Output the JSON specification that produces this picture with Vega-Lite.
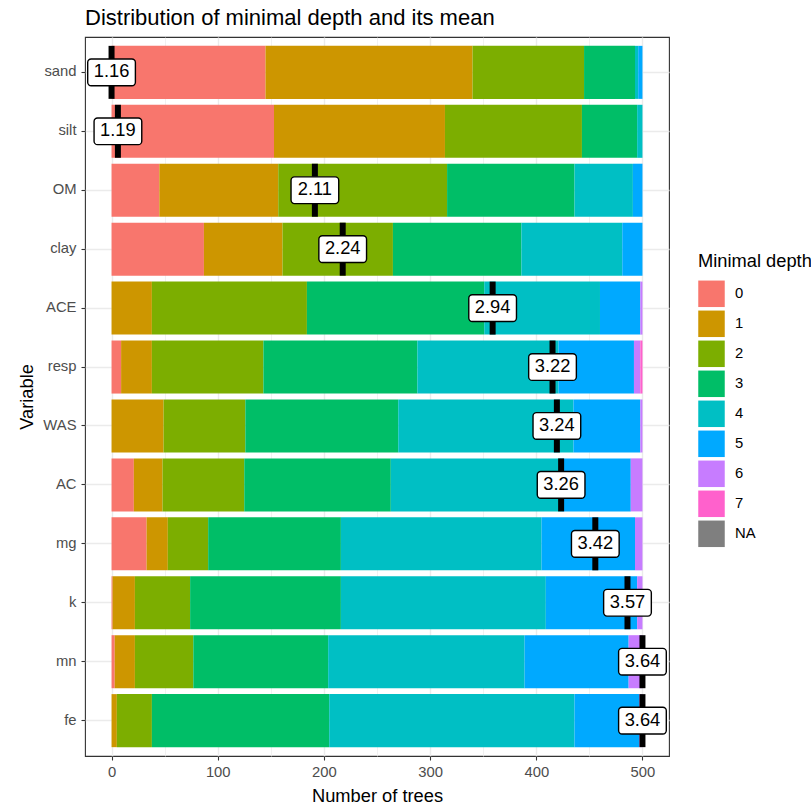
{
  "$schema": "https://vega.github.io/schema/vega-lite/v6.json",
  "autosize": {"type": "none"},
  "padding": {"left": 85, "top": 37, "right": 142, "bottom": 50},
  "width": 584,
  "height": 719,
  "title": {
    "text": "Distribution of minimal depth and its mean",
    "anchor": "start",
    "frame": "group",
    "fontSize": 22,
    "fontWeight": "normal",
    "color": "#000000",
    "offset": 7
  },
  "datasets": {
    "depths": [
      {"variable": "sand", "depth": "0", "count": 145},
      {"variable": "sand", "depth": "1", "count": 195},
      {"variable": "sand", "depth": "2", "count": 105},
      {"variable": "sand", "depth": "3", "count": 48},
      {"variable": "sand", "depth": "4", "count": 3},
      {"variable": "sand", "depth": "5", "count": 4},
      {"variable": "silt", "depth": "0", "count": 153},
      {"variable": "silt", "depth": "1", "count": 161},
      {"variable": "silt", "depth": "2", "count": 129},
      {"variable": "silt", "depth": "3", "count": 52},
      {"variable": "silt", "depth": "4", "count": 5},
      {"variable": "OM", "depth": "0", "count": 45},
      {"variable": "OM", "depth": "1", "count": 112},
      {"variable": "OM", "depth": "2", "count": 159},
      {"variable": "OM", "depth": "3", "count": 120},
      {"variable": "OM", "depth": "4", "count": 55},
      {"variable": "OM", "depth": "5", "count": 9},
      {"variable": "clay", "depth": "0", "count": 87},
      {"variable": "clay", "depth": "1", "count": 74},
      {"variable": "clay", "depth": "2", "count": 104},
      {"variable": "clay", "depth": "3", "count": 121},
      {"variable": "clay", "depth": "4", "count": 95},
      {"variable": "clay", "depth": "5", "count": 19},
      {"variable": "ACE", "depth": "1", "count": 38},
      {"variable": "ACE", "depth": "2", "count": 146},
      {"variable": "ACE", "depth": "3", "count": 167},
      {"variable": "ACE", "depth": "4", "count": 109},
      {"variable": "ACE", "depth": "5", "count": 38},
      {"variable": "ACE", "depth": "6", "count": 2},
      {"variable": "resp", "depth": "0", "count": 9},
      {"variable": "resp", "depth": "1", "count": 29},
      {"variable": "resp", "depth": "2", "count": 105},
      {"variable": "resp", "depth": "3", "count": 145},
      {"variable": "resp", "depth": "4", "count": 133},
      {"variable": "resp", "depth": "5", "count": 71},
      {"variable": "resp", "depth": "6", "count": 6},
      {"variable": "resp", "depth": "7", "count": 2},
      {"variable": "WAS", "depth": "1", "count": 49},
      {"variable": "WAS", "depth": "2", "count": 77},
      {"variable": "WAS", "depth": "3", "count": 144},
      {"variable": "WAS", "depth": "4", "count": 165},
      {"variable": "WAS", "depth": "5", "count": 63},
      {"variable": "WAS", "depth": "6", "count": 2},
      {"variable": "AC", "depth": "0", "count": 21},
      {"variable": "AC", "depth": "1", "count": 27},
      {"variable": "AC", "depth": "2", "count": 77},
      {"variable": "AC", "depth": "3", "count": 138},
      {"variable": "AC", "depth": "4", "count": 161},
      {"variable": "AC", "depth": "5", "count": 65},
      {"variable": "AC", "depth": "6", "count": 11},
      {"variable": "mg", "depth": "0", "count": 33},
      {"variable": "mg", "depth": "1", "count": 20},
      {"variable": "mg", "depth": "2", "count": 38},
      {"variable": "mg", "depth": "3", "count": 125},
      {"variable": "mg", "depth": "4", "count": 189},
      {"variable": "mg", "depth": "5", "count": 88},
      {"variable": "mg", "depth": "6", "count": 7},
      {"variable": "k", "depth": "0", "count": 1},
      {"variable": "k", "depth": "1", "count": 21},
      {"variable": "k", "depth": "2", "count": 52},
      {"variable": "k", "depth": "3", "count": 142},
      {"variable": "k", "depth": "4", "count": 193},
      {"variable": "k", "depth": "5", "count": 86},
      {"variable": "k", "depth": "6", "count": 5},
      {"variable": "mn", "depth": "0", "count": 3},
      {"variable": "mn", "depth": "1", "count": 19},
      {"variable": "mn", "depth": "2", "count": 55},
      {"variable": "mn", "depth": "3", "count": 127},
      {"variable": "mn", "depth": "4", "count": 185},
      {"variable": "mn", "depth": "5", "count": 98},
      {"variable": "mn", "depth": "6", "count": 13},
      {"variable": "fe", "depth": "1", "count": 5},
      {"variable": "fe", "depth": "2", "count": 33},
      {"variable": "fe", "depth": "3", "count": 167},
      {"variable": "fe", "depth": "4", "count": 231},
      {"variable": "fe", "depth": "5", "count": 61},
      {"variable": "fe", "depth": "6", "count": 3}
    ],
    "means": [
      {"variable": "sand", "mean": 1.16, "labelPos": 0},
      {"variable": "silt", "mean": 1.19, "labelPos": 6},
      {"variable": "OM", "mean": 2.11, "labelPos": 191.5},
      {"variable": "clay", "mean": 2.24, "labelPos": 217.7},
      {"variable": "ACE", "mean": 2.94, "labelPos": 358.9},
      {"variable": "resp", "mean": 3.22, "labelPos": 415.3},
      {"variable": "WAS", "mean": 3.24, "labelPos": 419.4},
      {"variable": "AC", "mean": 3.26, "labelPos": 423.4},
      {"variable": "mg", "mean": 3.42, "labelPos": 455.6},
      {"variable": "k", "mean": 3.57, "labelPos": 485.9},
      {"variable": "mn", "mean": 3.64, "labelPos": 500},
      {"variable": "fe", "mean": 3.64, "labelPos": 500}
    ]
  },
  "encoding": {
    "y": {
      "field": "variable",
      "type": "nominal",
      "sort": ["sand", "silt", "OM", "clay", "ACE", "resp", "WAS", "AC", "mg", "k", "mn", "fe"],
      "scale": {"paddingInner": 0.1, "paddingOuter": 0.15},
      "axis": {
        "title": "Variable",
        "titleFontSize": 18.3,
        "titleFontWeight": "normal",
        "titleColor": "#000000",
        "titlePadding": 6,
        "labelFontSize": 14.8,
        "labelColor": "#4D4D4D",
        "labelPadding": 5,
        "tickSize": 4,
        "tickColor": "#333333",
        "tickWidth": 1.1,
        "domain": false,
        "grid": true,
        "gridColor": "#EBEBEB",
        "gridWidth": 1.4,
        "bandPosition": 0.5
      }
    }
  },
  "layer": [
    {
      "data": {"name": "depths"},
      "mark": {"type": "bar", "strokeWidth": 0},
      "encoding": {
        "x": {
          "field": "count",
          "type": "quantitative",
          "stack": "zero",
          "scale": {"domain": [-25, 525], "nice": false, "zero": false},
          "axis": {
            "title": "Number of trees",
            "titleFontSize": 18.3,
            "titleFontWeight": "normal",
            "titleColor": "#000000",
            "titlePadding": 9,
            "values": [0, 50, 100, 150, 200, 250, 300, 350, 400, 450, 500],
            "labelExpr": "datum.value % 100 === 0 ? datum.label : ''",
            "labelFontSize": 14.8,
            "labelColor": "#4D4D4D",
            "labelPadding": 4,
            "tickSize": 4,
            "tickColor": "#333333",
            "tickWidth": 1.1,
            "tickOpacity": {"condition": {"test": "datum.value % 100 === 0", "value": 1}, "value": 0},
            "domain": false,
            "grid": true,
            "gridColor": "#EBEBEB",
            "gridWidth": {"condition": {"test": "datum.value % 100 === 0", "value": 1.4}, "value": 0.7}
          }
        },
        "color": {
          "field": "depth",
          "type": "nominal",
          "scale": {
            "domain": ["0", "1", "2", "3", "4", "5", "6", "7", "NA"],
            "range": ["#F8766D", "#CD9600", "#7CAE00", "#00BE67", "#00BFC4", "#00A9FF", "#C77CFF", "#FF61CC", "#7F7F7F"]
          },
          "legend": {
            "title": "Minimal depth",
            "orient": "none",
            "legendX": 613,
            "legendY": 216,
            "padding": 0,
            "titleFontSize": 18.3,
            "titleFontWeight": "normal",
            "titleColor": "#000000",
            "titlePadding": 9,
            "labelFontSize": 14.8,
            "labelColor": "#000000",
            "labelOffset": 10,
            "symbolType": "square",
            "symbolSize": 702,
            "symbolStrokeWidth": 0,
            "symbolOpacity": 1,
            "rowPadding": 3
          }
        },
        "order": {"field": "depth", "type": "ordinal", "sort": "ascending"}
      }
    },
    {
      "data": {"name": "means"},
      "mark": {"type": "tick", "color": "#000000", "thickness": 6, "size": 53, "opacity": 1},
      "encoding": {
        "x": {"field": "labelPos", "type": "quantitative"}
      }
    },
    {
      "data": {"name": "means"},
      "mark": {
        "type": "point",
        "shape": "M-0.853,-0.56 H0.853 A0.147,0.147 0 0 1 1,-0.413 V0.413 A0.147,0.147 0 0 1 0.853,0.56 H-0.853 A0.147,0.147 0 0 1 -1,0.413 V-0.413 A0.147,0.147 0 0 1 -0.853,-0.56 Z",
        "size": 2275,
        "filled": true,
        "fill": "#FFFFFF",
        "fillOpacity": 1,
        "stroke": "#000000",
        "strokeWidth": 1.4,
        "opacity": 1
      },
      "encoding": {
        "x": {"field": "labelPos", "type": "quantitative"}
      }
    },
    {
      "data": {"name": "means"},
      "mark": {"type": "text", "fontSize": 18.3, "color": "#000000", "align": "center", "baseline": "middle"},
      "encoding": {
        "x": {"field": "labelPos", "type": "quantitative"},
        "text": {"field": "mean", "type": "quantitative", "format": ".2f"}
      }
    }
  ],
  "config": {
    "font": "Liberation Sans",
    "view": {"stroke": "#333333", "strokeWidth": 1.1},
    "background": "#FFFFFF"
  }
}
